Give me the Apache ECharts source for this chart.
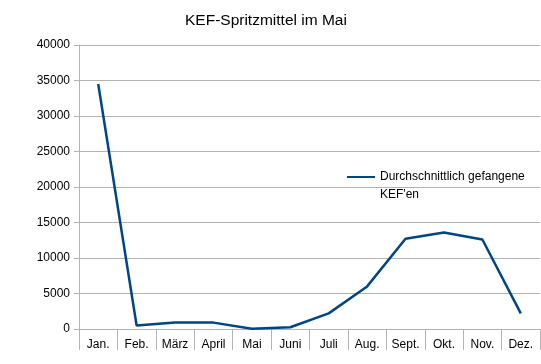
<!DOCTYPE html>
<html><head><meta charset="utf-8">
<script src="https://cdn.jsdelivr.net/npm/echarts@6/dist/echarts.min.js"></script>
<style>html,body{margin:0;padding:0;background:#fff}#c{width:541px;height:364px}</style>
</head><body><div id="c"></div>
<script>
const title = 'KEF-Spritzmittel im Mai';
const seriesName = "Durchschnittlich gefangene KEF'en";
const months = ['Jan.', 'Feb.', 'März', 'April', 'Mai', 'Juni', 'Juli', 'Aug.', 'Sept.', 'Okt.', 'Nov.', 'Dez.'];
const values = [34500, 500, 900, 900, 50, 250, 2200, 6000, 12700, 13600, 12600, 2200];
const yMin = 0, yMax = 40000, yStep = 5000;

const chart = echarts.init(document.getElementById('c'), null, {renderer: 'canvas'});
const font = '"Liberation Sans", Arial, sans-serif';
chart.setOption({
  animation: false,
  backgroundColor: '#fff',
  textStyle: {fontFamily: font},
  title: {text: title, left: 180, top: 8,
    textStyle: {fontFamily: font, fontSize: 15.5, fontWeight: 'normal', color: '#000'}},
  grid: {left: 79, right: 1, top: 45, bottom: 35, containLabel: false},
  legend: {
    left: 342, top: 163, itemWidth: 28, itemHeight: 36, itemGap: 0,
    icon: 'path://M0,8 L28,8 L28,10 L0,10 Z M0,0 L0.001,0 Z M0,36 L0.001,36 Z',
    formatter: n => n.replace(' KEF', '\nKEF'),
    textStyle: {fontFamily: font, fontSize: 12, color: '#000', lineHeight: 18}
  },
  xAxis: {
    type: 'category', data: months, boundaryGap: true,
    axisLine: {lineStyle: {color: '#b3b3b3', width: 1}},
    axisTick: {show: true, length: 21, alignWithLabel: false, lineStyle: {color: '#b3b3b3'}},
    axisLabel: {color: '#000', fontSize: 12, fontFamily: font, margin: 10, interval: 0},
    splitLine: {show: false}
  },
  yAxis: {
    type: 'value', min: yMin, max: yMax, interval: yStep,
    axisLine: {show: true, lineStyle: {color: '#b3b3b3'}},
    axisTick: {show: true, length: 5, lineStyle: {color: '#b3b3b3'}},
    axisLabel: {color: '#000', fontSize: 12, fontFamily: font, margin: 9, formatter: v => String(v)},
    splitLine: {show: true, lineStyle: {color: '#b3b3b3', width: 1}}
  },
  series: [{
    name: seriesName, type: 'line', data: values,
    symbol: 'none', smooth: false,
    lineStyle: {color: '#004586', width: 2.5},
    itemStyle: {color: '#004586'}
  }]
});
</script></body></html>
